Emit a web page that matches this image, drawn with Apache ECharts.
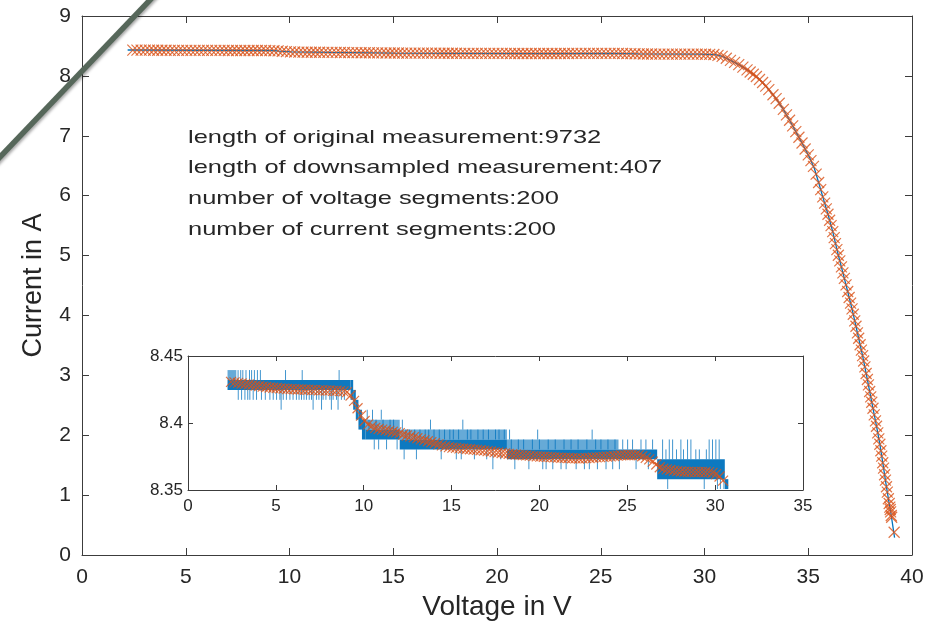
<!DOCTYPE html>
<html><head><meta charset="utf-8">
<script src="https://cdn.jsdelivr.net/npm/echarts@6/dist/echarts.min.js"></script>
<style>html,body{margin:0;padding:0;background:#fff}#c{width:936px;height:626px}</style>
</head><body><div id="c"></div>
<script>
// ---------- data ----------
const annotationLines = [
  'length of original measurement:9732',
  'length of downsampled measurement:407',
  'number of voltage segments:200',
  'number of current segments:200'
];
const xTitle = 'Voltage in V';
const yTitle = 'Current in A';

// downsampled measurement (orange crosses), flat part [V, I]
const dsFlat = [
[2.45,8.4307],[2.65,8.4303],[2.85,8.4299],[3.05,8.4295],[3.25,8.4290],[3.45,8.4287],[3.65,8.4283],[3.85,8.4279],
[4.05,8.4276],[4.25,8.4271],[4.45,8.4269],[4.65,8.4265],[4.85,8.4263],[5.05,8.4261],[5.25,8.4258],[5.45,8.4257],
[5.65,8.4254],[5.85,8.4253],[6.05,8.4252],[6.25,8.4250],[6.45,8.4251],[6.65,8.4248],[6.85,8.4249],[7.05,8.4246],
[7.25,8.4247],[7.45,8.4244],[7.65,8.4245],[7.85,8.4242],[8.05,8.4243],[8.25,8.4240],[8.45,8.4241],[8.65,8.4238],
[8.85,8.4236],[9.05,8.4230],[9.25,8.4205],[9.45,8.4165],[9.65,8.4110],[9.85,8.4055],[10.05,8.4015],[10.25,8.3990],
[10.45,8.3975],[10.65,8.3963],[10.85,8.3955],[11.05,8.3950],[11.25,8.3946],[11.45,8.3941],[11.65,8.3935],[11.85,8.3930],
[12.05,8.3924],[12.25,8.3914],[12.45,8.3907],[12.65,8.3900],[12.85,8.3894],[13.05,8.3886],[13.25,8.3878],[13.45,8.3871],
[13.65,8.3864],[13.85,8.3856],[14.05,8.3849],[14.25,8.3841],[14.45,8.3833],[14.65,8.3825],[14.85,8.3820],[15.05,8.3816],
[15.25,8.3814],[15.45,8.3811],[15.65,8.3809],[15.85,8.3806],[16.05,8.3804],[16.25,8.3801],[16.45,8.3799],[16.65,8.3797],
[16.85,8.3794],[17.05,8.3790],[17.25,8.3787],[17.45,8.3783],[17.65,8.3780],[17.85,8.3776],[18.05,8.3773],[18.25,8.3770],
[18.45,8.3767],[18.65,8.3765],[18.85,8.3762],[19.05,8.3760],[19.25,8.3758],[19.45,8.3756],[19.65,8.3753],[19.85,8.3751],
[20.05,8.3749],[20.25,8.3748],[20.45,8.3747],[20.65,8.3745],[20.85,8.3744],[21.05,8.3742],[21.25,8.3741],[21.45,8.3740],
[21.65,8.3739],[21.85,8.3737],[22.05,8.3736],[22.25,8.3735],[22.45,8.3736],[22.65,8.3738],[22.85,8.3739],[23.05,8.3741],
[23.25,8.3743],[23.45,8.3745],[23.65,8.3747],[23.85,8.3749],[24.05,8.3751],[24.25,8.3754],[24.45,8.3757],[24.65,8.3759],
[24.85,8.3760],[25.05,8.3761],[25.25,8.3761],[25.45,8.3760],[25.65,8.3759],[25.85,8.3752],[26.05,8.3740],[26.25,8.3728],
[26.45,8.3712],[26.65,8.3690],[26.85,8.3670],[27.05,8.3660],[27.25,8.3654],[27.45,8.3649],[27.65,8.3645],[27.85,8.3641],
[28.05,8.3638],[28.25,8.3636],[28.45,8.3635],[28.65,8.3635],[28.85,8.3634],[29.05,8.3634],[29.25,8.3635],[29.45,8.3634],
[29.65,8.3633],[29.85,8.3628],[30.05,8.3618],[30.25,8.3601],[30.45,8.3570]
];
// downsampled measurement, knee and steep part [V, I]
const dsSteep = [
[30.65,8.343],[30.85,8.325],[31.05,8.295],[31.25,8.259],[31.45,8.225],[31.65,8.189],[31.85,8.146],[32.05,8.101],
[32.2,8.065],[32.35,8.028],[32.5,7.99],[32.65,7.94],[32.8,7.89],[32.95,7.83],[33.1,7.77],[33.3,7.685],[33.45,7.62],
[33.6,7.543],[33.8,7.44],[33.95,7.35],[34.1,7.26],[34.25,7.165],[34.4,7.07],[34.55,6.975],[34.7,6.88],[34.85,6.78],
[35.0,6.68],[35.13,6.585],[35.25,6.49],[35.38,6.36],[35.5,6.22],[35.6,6.10],[35.7,5.98],[35.79,5.875],[35.87,5.78],
[35.95,5.69],[36.03,5.59],[36.1,5.50],[36.18,5.40],[36.25,5.30],[36.31,5.20],[36.38,5.10],[36.45,5.005],[36.52,4.91],
[36.6,4.81],[36.67,4.71],[36.74,4.62],[36.82,4.51],[36.9,4.40],[36.97,4.30],[37.04,4.205],[37.11,4.11],[37.17,4.02],
[37.24,3.91],[37.3,3.82],[37.37,3.71],[37.43,3.62],[37.5,3.51],[37.56,3.42],[37.62,3.33],[37.67,3.24],[37.73,3.14],
[37.79,3.03],[37.85,2.93],[37.9,2.84],[37.96,2.73],[38.01,2.64],[38.06,2.55],[38.12,2.45],[38.18,2.34],[38.24,2.24],
[38.29,2.15],[38.35,2.04],[38.4,1.94],[38.45,1.85],[38.5,1.74],[38.54,1.65],[38.59,1.54],[38.63,1.45],[38.68,1.34],
[38.72,1.25],[38.77,1.14],[38.81,1.05],[38.86,0.94],[38.9,0.86],[38.93,0.80],[38.95,0.76],[38.97,0.72],[39.0,0.66],
[39.02,0.63],[39.14,0.38]
];
// original measurement, overall trend (blue line in the main plot) [V, I]
const origTrend = [
[2.2,8.432],[9.2,8.424],[9.5,8.415],[10.1,8.401],[12,8.392],[15,8.381],[18,8.377],[22,8.373],[25.5,8.376],
[26.8,8.367],[29.8,8.363],[30.5,8.356],[30.9,8.32],[31.3,8.25],[31.7,8.18],[32.1,8.09],[32.5,7.99],[32.8,7.89],
[33.1,7.77],[33.45,7.62],[33.8,7.44],[34.1,7.26],[34.4,7.07],[34.7,6.88],[35.06,6.64],[35.3,6.45],[35.5,6.22],
[35.7,5.98],[35.95,5.69],[36.18,5.40],[36.41,5.06],[36.65,4.74],[36.9,4.40],[37.13,4.08],[37.35,3.74],[37.6,3.36],
[37.85,2.93],[38.05,2.57],[38.29,2.15],[38.45,1.85],[38.6,1.52],[38.75,1.18],[38.9,0.86],[39.0,0.66],[39.07,0.63],
[39.16,0.29]
];
// original measurement in the inset: quantised levels the signal toggles between most of the time
// [Vstart, Vend, Ilow, Ihigh]
const bandCore = [
[2.25,9.25,8.4247,8.4321],[9.25,9.4,8.4173,8.4321],[9.4,9.55,8.4099,8.4247],[9.55,9.7,8.4025,8.4173],
[9.7,9.9,8.3951,8.4099],[9.9,10.1,8.3877,8.4025],[10.1,12.05,8.3877,8.3951],[12.05,18.15,8.3803,8.3877],
[18.15,26.7,8.3729,8.3803],[26.7,30.55,8.3581,8.3729],[30.55,30.75,8.3507,8.3581]
];
// levels reached less often (lighter fringe of the noise band) [Vstart, Vend, Ilow, Ihigh]
const bandFringe = [
[2.25,2.75,8.4321,8.4395],[10.1,12.05,8.3951,8.4025],[12.05,18.15,8.3877,8.3951],[18.15,24.5,8.3803,8.3877]
];
// original measurement in the inset: single-sample spikes [V, Ifrom, Ito]
const spikes = [
[2.85,8.4321,8.4395],[3.0,8.4321,8.4395],[3.12,8.4321,8.4395],[3.3,8.4321,8.4395],[3.5,8.4321,8.4395],
[3.62,8.4321,8.4395],[3.78,8.4321,8.4395],[3.95,8.4321,8.4395],[4.12,8.4321,8.4395],[5.55,8.4321,8.4395],
[6.5,8.4321,8.4395],[8.6,8.4321,8.4395],
[2.86,8.4247,8.4173],[3.05,8.4247,8.4173],[3.24,8.4247,8.4173],[3.4,8.4247,8.4173],[3.52,8.4247,8.4173],
[3.71,8.4247,8.4173],[3.9,8.4247,8.4173],[4.18,8.4247,8.4173],[4.4,8.4247,8.4173],[4.66,8.4247,8.4173],
[4.85,8.4247,8.4173],[5.04,8.4247,8.4173],[5.23,8.4247,8.4173],[5.42,8.4247,8.4173],[5.6,8.4247,8.4173],
[5.8,8.4247,8.4173],[5.98,8.4247,8.4173],[6.17,8.4247,8.4173],[6.32,8.4247,8.4173],[6.46,8.4247,8.4173],
[6.6,8.4247,8.4173],[6.74,8.4247,8.4173],[6.9,8.4247,8.4173],[7.03,8.4247,8.4173],[7.31,8.4247,8.4173],
[7.45,8.4247,8.4173],[7.69,8.4247,8.4173],[7.85,8.4247,8.4173],[8.07,8.4247,8.4173],[8.26,8.4247,8.4173],
[8.45,8.4247,8.4173],[8.73,8.4247,8.4173],[8.9,8.4247,8.4173],
[5.3,8.4247,8.4099],[7.12,8.4247,8.4099],[7.6,8.4247,8.4099],[8.16,8.4247,8.4099],[8.54,8.4247,8.4099],
[10.2,8.4025,8.4099],[10.5,8.4025,8.4099],[11.0,8.4025,8.4099],
[10.3,8.3951,8.4025],[10.7,8.3951,8.4025],[11.1,8.3951,8.4025],[11.5,8.3951,8.4025],[11.7,8.3951,8.4025],
[10.6,8.3877,8.3803],[10.85,8.3877,8.3803],[11.3,8.3877,8.3803],[11.9,8.3877,8.3803],
[12.2,8.3951,8.4025],[13.8,8.3951,8.4025],[15.64,8.3951,8.4025],
[12.4,8.3877,8.3951],[12.6,8.3877,8.3951],[12.9,8.3877,8.3951],[13.2,8.3877,8.3951],[13.5,8.3877,8.3951],
[13.7,8.3877,8.3951],[14.0,8.3877,8.3951],[14.3,8.3877,8.3951],[14.6,8.3877,8.3951],[14.9,8.3877,8.3951],
[15.1,8.3877,8.3951],[15.4,8.3877,8.3951],[15.9,8.3877,8.3951],[16.1,8.3877,8.3951],[16.5,8.3877,8.3951],
[16.8,8.3877,8.3951],[17.1,8.3877,8.3951],[17.5,8.3877,8.3951],[17.7,8.3877,8.3951],[18.0,8.3877,8.3951],
[12.3,8.3803,8.3729],[13.0,8.3803,8.3729],[14.41,8.3803,8.3729],[15.27,8.3803,8.3729],[15.55,8.3803,8.3729],
[16.3,8.3803,8.3729],[17.0,8.3803,8.3729],[17.35,8.3803,8.3655],[17.8,8.3803,8.3729],
[18.3,8.3877,8.3951],[19.9,8.3877,8.3951],[23.0,8.3877,8.3951],
[18.4,8.3803,8.3877],[18.8,8.3803,8.3877],[19.1,8.3803,8.3877],[19.6,8.3803,8.3877],[20.0,8.3803,8.3877],
[20.5,8.3803,8.3877],[20.9,8.3803,8.3877],[21.4,8.3803,8.3877],[21.8,8.3803,8.3877],[22.2,8.3803,8.3877],
[22.7,8.3803,8.3877],[23.2,8.3803,8.3877],[23.5,8.3803,8.3877],[23.9,8.3803,8.3877],[24.3,8.3803,8.3877],
[18.6,8.3729,8.3655],[19.4,8.3729,8.3655],[20.19,8.3729,8.3655],[20.38,8.3729,8.3655],[20.76,8.3729,8.3655],
[21.23,8.3729,8.3655],[21.52,8.3729,8.3655],[22.09,8.3729,8.3655],[22.56,8.3729,8.3655],[22.84,8.3729,8.3655],
[23.3,8.3729,8.3655],[23.79,8.3729,8.3655],[24.17,8.3729,8.3655],[24.55,8.3729,8.3655],[25.5,8.3729,8.3655],
[26.2,8.3729,8.3655],
[24.74,8.3803,8.3877],[25.02,8.3803,8.3877],[25.3,8.3803,8.3877],[25.78,8.3803,8.3877],[26.06,8.3803,8.3877],
[26.44,8.3803,8.3877],
[27.01,8.3729,8.3877],[27.39,8.3729,8.3877],[27.58,8.3729,8.3877],[28.05,8.3729,8.3877],[28.43,8.3729,8.3877],
[28.62,8.3729,8.3877],[29.66,8.3729,8.3877],[29.85,8.3729,8.3877],[30.04,8.3729,8.3877],[30.23,8.3729,8.3877],
[27.2,8.3729,8.3803],[27.8,8.3729,8.3803],[28.2,8.3729,8.3803],[28.9,8.3729,8.3803],[29.1,8.3729,8.3803],
[29.5,8.3729,8.3803],
[27.3,8.3581,8.3507],[29.38,8.3581,8.3507],[30.13,8.3581,8.3507],[30.3,8.3581,8.3507],[30.5,8.3581,8.3507]
];

// ---------- styling ----------
const BLUE = '#0072BD', ORANGE = '#D95319';
const axisColor = '#3c3c3c', textColor = '#262626';
const FONT = '"Liberation Sans", Arial, sans-serif';
const crossPath = 'path://M0 0L10 10M10 0L0 10';
const downsampled = dsFlat.concat(dsSteep);

function ax(grid, min, max, interval, pos, labelSize, margin, tickLen, extra) {
  return Object.assign({
    gridIndex: grid, type: 'value', min, max, interval, position: pos,
    axisLine: { show: true, onZero: false, lineStyle: { color: axisColor, width: 1 } },
    axisTick: { show: true, inside: true, length: tickLen, lineStyle: { color: axisColor } },
    axisLabel: { show: pos === 'bottom' || pos === 'left', fontSize: labelSize, color: textColor, fontFamily: FONT, margin },
    splitLine: { show: false }
  }, extra || {});
}
function bandItem(opacity) {
  return (params, api) => {
    const a = api.coord([api.value(0), api.value(3)]);
    const b = api.coord([api.value(1), api.value(2)]);
    return { type: 'rect', shape: { x: a[0], y: a[1], width: b[0] - a[0], height: b[1] - a[1] },
      style: { fill: BLUE, opacity } };
  };
}

const chart = echarts.init(document.getElementById('c'));
chart.setOption({
  animation: false,
  backgroundColor: '#fff',
  grid: [
    { left: 82, top: 16, width: 830, height: 544, show: false },
    { left: 188, top: 356, width: 615, height: 134, show: true, backgroundColor: '#fff', borderWidth: 0, z: 5 }
  ],
  xAxis: [
    ax(0, 0, 40, 5, 'bottom', 21, 12, 7, { name: xTitle, nameLocation: 'middle', nameGap: 38,
      nameTextStyle: { fontSize: 28, color: textColor, fontFamily: FONT } }),
    ax(0, 0, 40, 5, 'top', 21, 12, 7),
    ax(1, 0, 35, 5, 'bottom', 17, 8, 5, { z: 6 }),
    ax(1, 0, 35, 5, 'top', 17, 8, 5, { z: 6 })
  ],
  yAxis: [
    ax(0, 0, 9, 1, 'left', 21, 11, 7, { name: yTitle, nameLocation: 'middle', nameGap: 35,
      nameTextStyle: { fontSize: 27, color: textColor, fontFamily: FONT } }),
    ax(0, 0, 9, 1, 'right', 21, 11, 7),
    ax(1, 8.35, 8.45, 0.05, 'left', 17, 5, 5, { z: 6,
      axisLabel: { show: true, fontSize: 17, color: textColor, fontFamily: FONT, margin: 5,
        formatter: v => String(Math.round(v * 100) / 100) } }),
    ax(1, 8.35, 8.45, 0.05, 'right', 17, 5, 5, { z: 6 })
  ],
  series: [
    { type: 'line', xAxisIndex: 0, yAxisIndex: 0, data: origTrend, showSymbol: false, symbol: 'none',
      lineStyle: { color: BLUE, width: 1.3 }, z: 2 },
    { type: 'scatter', xAxisIndex: 0, yAxisIndex: 0, data: downsampled, symbol: crossPath, symbolSize: 11,
      itemStyle: { color: 'rgba(0,0,0,0)', borderColor: ORANGE, borderWidth: 1.2, opacity: 0.8 }, z: 3 },
    { type: 'custom', xAxisIndex: 2, yAxisIndex: 2, data: bandFringe, clip: true, z: 7, renderItem: bandItem(0.6) },
    { type: 'custom', xAxisIndex: 2, yAxisIndex: 2, data: bandCore, clip: true, z: 7, renderItem: bandItem(0.95) },
    { type: 'custom', xAxisIndex: 2, yAxisIndex: 2, data: spikes, clip: true, z: 7,
      renderItem: (params, api) => {
        const a = api.coord([api.value(0), api.value(1)]);
        const b = api.coord([api.value(0), api.value(2)]);
        return { type: 'line', shape: { x1: a[0], y1: a[1], x2: b[0], y2: b[1] },
          style: { stroke: BLUE, lineWidth: 1, opacity: 0.75 } };
      } },
    { type: 'scatter', xAxisIndex: 2, yAxisIndex: 2, data: downsampled, symbol: crossPath, symbolSize: 10,
      clip: true, itemStyle: { color: 'rgba(0,0,0,0)', borderColor: ORANGE, borderWidth: 1.2, opacity: 0.8 }, z: 8 }
  ],
  graphic: annotationLines.map((t, i) => ({
    type: 'text', x: 188, y: 137.5 + i * 30.6, scaleX: 1.34, z: 20,
    style: { text: t, fontSize: 19, fontFamily: FONT, fill: textColor, textAlign: 'left', textVerticalAlign: 'middle' }
  })).concat([{
    type: 'line', z: 30,
    shape: { x1: -10, y1: 167.5, x2: 160, y2: -10.5 },
    style: { stroke: '#56675a', lineWidth: 5.5, shadowBlur: 3, shadowColor: 'rgba(0,0,0,0.35)', shadowOffsetX: 2, shadowOffsetY: 1 }
  }])
});
</script>
</body></html>
